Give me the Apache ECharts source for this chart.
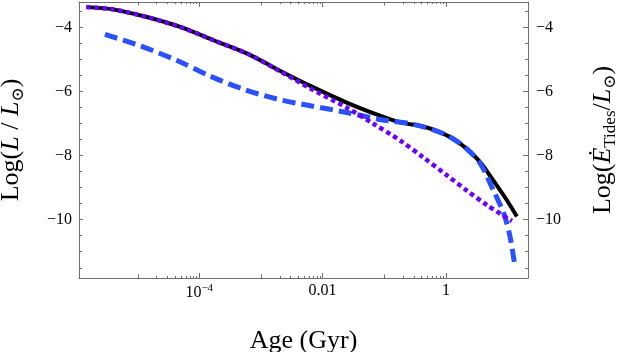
<!DOCTYPE html>
<html>
<head>
<meta charset="utf-8">
<title>Luminosity vs age</title>
<script src="https://cdn.jsdelivr.net/npm/echarts@6/dist/echarts.min.js"></script>
<style>
  html, body { margin: 0; padding: 0; background: #fff; }
  #myChart { width: 619px; height: 352px; }
</style>
</head>
<body>
<div id="myChart"></div>
<script>
// x values are log10(age / Gyr), y values are log10(L / Lsun)
const totalLogAge = [-5.83, -5.4, -4.85, -4.31, -3.75, -3.18, -2.74, -2.2, -1.61, -1.07, -0.74, -0.37, -0.09, 0.12, 0.34, 0.56, 0.77, 0.99, 1.15]
const totalLum = [-3.36, -3.43, -3.67, -3.98, -4.41, -4.85, -5.3, -5.82, -6.34, -6.75, -6.96, -7.09, -7.27, -7.48, -7.79, -8.21, -8.78, -9.4, -9.9]

const coolLogAge = [-5.83, -5.4, -4.85, -4.31, -3.75, -3.18, -2.74, -2.2, -1.61, -1.17, -0.74, -0.37, 0.02, 0.34, 0.67, 1.07]
const coolLum = [-3.36, -3.43, -3.67, -3.98, -4.41, -4.85, -5.31, -5.9, -6.5, -7.01, -7.53, -8.05, -8.62, -9.09, -9.55, -10.04]

const tidesLogAge = [-5.53, -4.96, -4.37, -3.83, -3.29, -2.74, -2.2, -1.61, -1.07, -0.53, 0.0, 0.34, 0.56, 0.77, 0.94, 1.04, 1.12]
const tidesLum = [-4.21, -4.57, -5.02, -5.51, -5.92, -6.23, -6.44, -6.65, -6.87, -7.02, -7.35, -7.79, -8.26, -9.09, -9.82, -10.54, -11.48]

// tick labels
const xTickLabels = { '-4': '{b|10}{s|\u22124}', '-2': '{b|0.01}', '0': '{b|1}' }
const yTickLabels = { '-4': '\u22124', '-6': '\u22126', '-8': '\u22128', '-10': '\u221210' }

// log-axis minor ticks (10^odd decades get medium ticks, k*10^odd small ones)
const xMinorTicks = []
;[-5, -3, -1].forEach(function (d) {
  for (let k = 1; k <= 9; k++) {
    xMinorTicks.push([d + Math.log10(k), k === 1 ? 3.5 : 2])
  }
})

const xMin = -5.95, xMax = 1.33
const yMin = -11.82, yMax = -3.2

function pairs(xs, ys) {
  return xs.map(function (x, i) { return [x, ys[i]] })
}

const serif = '"Liberation Serif", "DejaVu Serif", serif'
const frameColor = '#6e6e6e'

const nameRich = {
  n: { fontFamily: serif, fontSize: 26, color: '#000' },
  i: { fontFamily: serif, fontSize: 26, fontStyle: 'italic', color: '#000' },
  s: { fontFamily: serif, fontSize: 17, color: '#000', padding: [14, 0, 0, 0] }
}

const myChart = echarts.init(document.getElementById('myChart'))

const option = {
  animation: false,
  backgroundColor: '#fff',
  grid: { left: 79, right: 91, top: 2, bottom: 74, outerBoundsMode: 'none' },
  xAxis: [
    {
      type: 'value',
      position: 'bottom',
      min: xMin,
      max: xMax,
      splitNumber: 4,
      splitLine: { show: false },
      axisLine: { onZero: false, lineStyle: { color: frameColor, width: 1 } },
      axisTick: { inside: true, length: 5, lineStyle: { color: frameColor } },
      axisLabel: {
        margin: 5,
        formatter: function (v) { return xTickLabels[String(v)] || '' },
        rich: {
          b: { fontFamily: serif, fontSize: 16, color: '#000' },
          s: { fontFamily: serif, fontSize: 11, color: '#000', padding: [0, 0, 9, 0] }
        }
      },
      name: 'Age (Gyr)',
      nameLocation: 'middle',
      nameGap: 50,
      nameTextStyle: { fontFamily: serif, fontSize: 26, color: '#000' }
    },
    {
      type: 'value',
      position: 'top',
      min: xMin,
      max: xMax,
      splitNumber: 4,
      splitLine: { show: false },
      axisLine: { onZero: false, lineStyle: { color: frameColor, width: 1 } },
      axisTick: { inside: true, length: 5, lineStyle: { color: frameColor } },
      axisLabel: { show: false }
    }
  ],
  yAxis: [
    {
      type: 'value',
      position: 'left',
      min: yMin,
      max: yMax,
      splitNumber: 4,
      splitLine: { show: false },
      axisLine: { show: true, onZero: false, lineStyle: { color: frameColor, width: 1 } },
      axisTick: { show: true, inside: true, length: 4, lineStyle: { color: frameColor } },
      minorTick: { show: true, splitNumber: 4, length: 3, lineStyle: { color: frameColor } },
      axisLabel: {
        margin: 7,
        fontFamily: serif,
        fontSize: 16,
        color: '#000',
        formatter: function (v) { return yTickLabels[String(v)] || '' }
      },
      name: '{n|Log(}{i|L}{n| / }{i|L}{s|\u2299}{n|)}',
      nameLocation: 'middle',
      nameGap: 52,
      nameTextStyle: { rich: nameRich }
    },
    {
      type: 'value',
      position: 'right',
      min: yMin,
      max: yMax,
      splitNumber: 4,
      splitLine: { show: false },
      axisLine: { show: true, onZero: false, lineStyle: { color: frameColor, width: 1 } },
      axisTick: { show: true, inside: true, length: 5, lineStyle: { color: frameColor } },
      minorTick: { show: true, splitNumber: 4, length: 3, lineStyle: { color: frameColor } },
      axisLabel: {
        margin: 8,
        fontFamily: serif,
        fontSize: 16,
        color: '#000',
        formatter: function (v) { return yTickLabels[String(v)] || '' }
      },
      name: '{n|Log(}{i|\u0116}{s|Tides}{n|/}{i|L}{s|\u2299}{n|)}',
      nameLocation: 'middle',
      nameGap: 60,
      nameTextStyle: { rich: nameRich }
    }
  ],
  series: [
    {
      name: 'minor ticks',
      type: 'custom',
      silent: true,
      xAxisIndex: 0,
      yAxisIndex: 0,
      data: xMinorTicks,
      z: 1,
      renderItem: function (params, api) {
        const x = Math.round(api.coord([api.value(0), yMin])[0]) + 0.5
        const len = api.value(1)
        const cs = params.coordSys
        const style = { stroke: frameColor, lineWidth: 1 }
        return {
          type: 'group',
          children: [
            { type: 'line', shape: { x1: x, y1: cs.y + cs.height, x2: x, y2: cs.y + cs.height - len }, style: style },
            { type: 'line', shape: { x1: x, y1: cs.y, x2: x, y2: cs.y + len }, style: style }
          ]
        }
      }
    },
    {
      name: 'total',
      type: 'line',
      data: pairs(totalLogAge, totalLum),
      smooth: 0.3,
      showSymbol: false,
      z: 2,
      lineStyle: { color: '#000', width: 4 }
    },
    {
      name: 'tides',
      type: 'line',
      data: pairs(tidesLogAge, tidesLum),
      smooth: 0.3,
      showSymbol: false,
      z: 3,
      lineStyle: { color: '#2a50ff', width: 5, type: [13, 6] }
    },
    {
      name: 'cooling',
      type: 'line',
      data: pairs(coolLogAge, coolLum),
      smooth: 0.3,
      showSymbol: false,
      z: 4,
      lineStyle: { color: '#6c00ff', width: 4.5, type: [4.5, 3.5] }
    }
  ]
}

myChart.setOption(option)
window.onresize = myChart.resize
</script>
</body>
</html>
